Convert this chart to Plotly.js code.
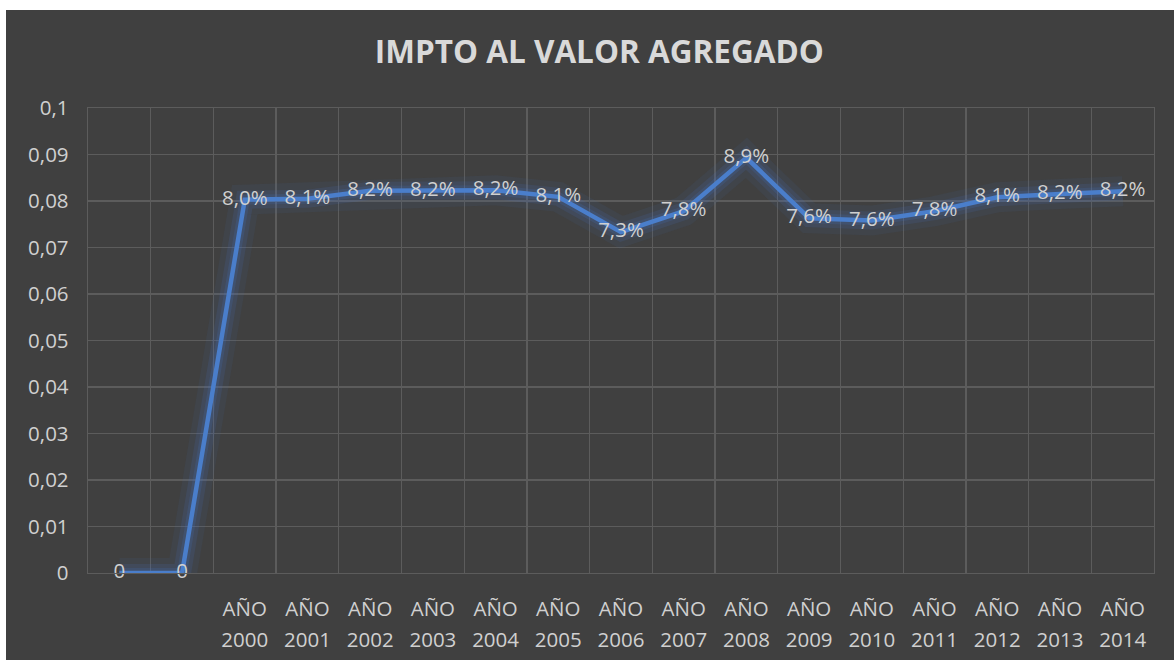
<!DOCTYPE html>
<html>
<head>
<meta charset="utf-8">
<script src="https://cdn.plot.ly/plotly-3.0.1.min.js"></script>
<style>
html,body{margin:0;padding:0;background:#ffffff;}
#chart{position:absolute;left:6px;top:10px;width:1168px;height:650px;}
</style>
</head>
<body>
<div id="chart"></div>
<script>
const categories = ["", "", "AÑO 2000", "AÑO 2001", "AÑO 2002", "AÑO 2003", "AÑO 2004", "AÑO 2005", "AÑO 2006", "AÑO 2007", "AÑO 2008", "AÑO 2009", "AÑO 2010", "AÑO 2011", "AÑO 2012", "AÑO 2013", "AÑO 2014"];
const values = [0, 0, 0.0803, 0.0805, 0.0822, 0.0822, 0.0823, 0.0809, 0.0733, 0.0778, 0.0893, 0.0763, 0.0758, 0.0778, 0.0808, 0.0815, 0.0821];
const yTickVals = [0, 0.01, 0.02, 0.03, 0.04, 0.05, 0.06, 0.07, 0.08, 0.09, 0.1];
const yTickText = ["0", "0,01", "0,02", "0,03", "0,04", "0,05", "0,06", "0,07", "0,08", "0,09", "0,1"];

const xs = categories.map((c, i) => i);
const line1 = categories.map(c => c.split(" ")[0] || "");
const line2 = categories.map(c => c.split(" ")[1] || "");
const labels = values.map(v => v === 0 ? "0" : (v * 100).toFixed(1).replace(".", ",") + "%");

const font = "Open Sans, Noto Sans, sans-serif";
const lineColor = "#4a7ecb";
const txtColor = "#d0d0d0";
const gridColor = "#5c5c5c";

const traces = [
  {x: xs, y: values, mode: "lines", line: {color: "rgba(68,114,196,0.08)", width: 30}, hoverinfo: "skip", showlegend: false},
  {x: xs, y: values, mode: "lines", line: {color: "rgba(68,114,196,0.14)", width: 18}, hoverinfo: "skip", showlegend: false},
  {x: xs, y: values, mode: "lines", line: {color: "rgba(68,114,196,0.18)", width: 10}, hoverinfo: "skip", showlegend: false},
  {x: xs, y: values, mode: "lines+text", line: {color: lineColor, width: 4.5}, text: labels,
   textposition: "middle center", textfont: {family: font, size: 20.5, color: txtColor}, showlegend: false, cliponaxis: false},
  {x: xs, y: values, xaxis: "x2", mode: "lines", line: {color: "rgba(0,0,0,0)", width: 0}, hoverinfo: "skip", showlegend: false}
];

const layout = {
  width: 1168, height: 650,
  paper_bgcolor: "#404040", plot_bgcolor: "#404040",
  margin: {l: 82, r: 20, t: 98, b: 87},
  title: {text: "<b>IMPTO AL VALOR AGREGADO</b>", font: {family: font, size: 31.5, color: "#d9d9d9"}, x: 0.508, xanchor: "center", y: 0.935, yanchor: "middle"},
  xaxis: {
    range: [-0.5, categories.length - 0.5],
    tickmode: "array", tickvals: xs, ticktext: line1,
    showgrid: false, zeroline: false, showline: true, linecolor: gridColor, linewidth: 1.3, mirror: true,
    ticks: "outside", ticklen: 17, tickcolor: "rgba(0,0,0,0)",
    tickfont: {family: font, size: 20.5, color: txtColor},
    minor: {tick0: -0.5, dtick: 1, showgrid: true, gridcolor: gridColor, gridwidth: 1.3, ticks: ""}
  },
  xaxis2: {
    overlaying: "x", anchor: "y", side: "bottom", matches: "x",
    range: [-0.5, categories.length - 0.5],
    tickmode: "array", tickvals: xs, ticktext: line2,
    showgrid: false, zeroline: false, showline: false,
    ticks: "outside", ticklen: 48, tickcolor: "rgba(0,0,0,0)",
    tickfont: {family: font, size: 20.5, color: txtColor}
  },
  yaxis: {
    range: [0, 0.1], tickmode: "array", tickvals: yTickVals, ticktext: yTickText,
    showgrid: true, gridcolor: gridColor, gridwidth: 1.3, zeroline: true, zerolinecolor: gridColor, zerolinewidth: 1.3,
    showline: true, linecolor: gridColor, linewidth: 1.3, mirror: true,
    ticks: "outside", ticklen: 14, tickcolor: "rgba(0,0,0,0)",
    tickfont: {family: font, size: 20.5, color: txtColor}
  },
  font: {family: font, color: txtColor}
};

Plotly.newPlot("chart", traces, layout, {displayModeBar: false, staticPlot: true});
</script>
</body>
</html>
